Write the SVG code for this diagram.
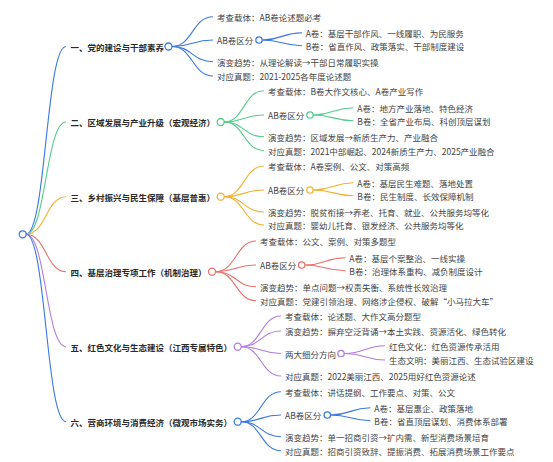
<svg xmlns="http://www.w3.org/2000/svg" width="553" height="462" viewBox="0 0 553 462">
<style>
text{font-family:"Noto Sans CJK SC","Liberation Sans",sans-serif;font-size:8.5px;dominant-baseline:central;fill:#444}
.l1{fill:#2a2a2a;font-weight:600}
path{fill:none;stroke-width:1.1}
circle{fill:#fff;stroke-width:1.3}
.b{stroke:#3a78e0}.g{stroke:#56cc8c}.o{stroke:#f2b230}.r{stroke:#e8726c}.p{stroke:#b07ddf}
</style>
<rect width="553" height="462" fill="#fff"/>
<g id="connectors">
<path class="b" d="M26,234.3C46,234.3 46,46.5 66,46.5"/>
<path class="g" d="M26,234.3C46,234.3 46,122 66,122"/>
<path class="o" d="M26,234.3C46,234.3 46,196.7 66,196.7"/>
<path class="r" d="M26,234.3C46,234.3 46,271.7 66,271.7"/>
<path class="p" d="M26,234.3C46,234.3 46,346.7 66,346.7"/>
<path class="b" d="M26,234.3C46,234.3 46,421.7 66,421.7"/>
<!-- branch 1 -->
<path class="b" d="M172,46.5C192.5,46.5 192.5,16.7 213,16.7"/>
<path class="b" d="M172,46.5C192.5,46.5 192.5,40 213,40"/>
<path class="b" d="M172,46.5C192.5,46.5 192.5,61.7 213,61.7"/>
<path class="b" d="M172,46.5C192.5,46.5 192.5,76 213,76"/>
<path class="b" d="M262.5,40C282,40 282,32.7 302,32.7"/>
<path class="b" d="M262.5,40C282,40 282,45.7 302,45.7"/>
<!-- branch 2 -->
<path class="g" d="M224.2,122C244,122 244,90.7 264,90.7"/>
<path class="g" d="M224.2,122C244,122 244,115 264,115"/>
<path class="g" d="M224.2,122C244,122 244,136.7 264,136.7"/>
<path class="g" d="M224.2,122C244,122 244,150.7 264,150.7"/>
<path class="g" d="M313.5,115C333.5,115 333.5,107.7 353.5,107.7"/>
<path class="g" d="M313.5,115C333.5,115 333.5,120.7 353.5,120.7"/>
<!-- branch 3 -->
<path class="o" d="M224.2,196.7C244,196.7 244,166 264,166"/>
<path class="o" d="M224.2,196.7C244,196.7 244,190 264,190"/>
<path class="o" d="M224.2,196.7C244,196.7 244,212 264,212"/>
<path class="o" d="M224.2,196.7C244,196.7 244,225 264,225"/>
<path class="o" d="M313.5,190C333.5,190 333.5,182.7 353.5,182.7"/>
<path class="o" d="M313.5,190C333.5,190 333.5,195.7 353.5,195.7"/>
<!-- branch 4 -->
<path class="r" d="M215.5,271.7C236,271.7 236,241 256,241"/>
<path class="r" d="M215.5,271.7C236,271.7 236,265 256,265"/>
<path class="r" d="M215.5,271.7C236,271.7 236,286.7 256,286.7"/>
<path class="r" d="M215.5,271.7C236,271.7 236,300.7 256,300.7"/>
<path class="r" d="M305.2,265C325,265 325,257.7 345.5,257.7"/>
<path class="r" d="M305.2,265C325,265 325,270.7 345.5,270.7"/>
<!-- branch 5 -->
<path class="p" d="M241.2,346.7C261,346.7 261,316 281,316"/>
<path class="p" d="M241.2,346.7C261,346.7 261,331 281,331"/>
<path class="p" d="M241.2,346.7C261,346.7 261,353.5 281,353.5"/>
<path class="p" d="M241.2,346.7C261,346.7 261,376 281,376"/>
<path class="p" d="M344.5,353.5C365,353.5 365,345.7 385,345.7"/>
<path class="p" d="M344.5,353.5C365,353.5 365,360 385,360"/>
<!-- branch 6 -->
<path class="b" d="M241.2,421.7C261,421.7 261,391.7 281,391.7"/>
<path class="b" d="M241.2,421.7C261,421.7 261,415 281,415"/>
<path class="b" d="M241.2,421.7C261,421.7 261,436.7 281,436.7"/>
<path class="b" d="M241.2,421.7C261,421.7 261,450.7 281,450.7"/>
<path class="b" d="M330.8,415C350.5,415 350.5,407.7 370.5,407.7"/>
<path class="b" d="M330.8,415C350.5,415 350.5,420.7 370.5,420.7"/>
</g>
<g id="root"><circle class="b" cx="22.7" cy="234.3" r="3.5"/></g>
<g id="n1">
<text class="l1" x="70.5" y="46.5">一、党的建设与干部素养</text>
<circle class="b" cx="168.5" cy="46.5" r="3.5"/>
</g>
<g id="n1-1"><text x="217" y="16.7">考查载体：AB卷论述题必考</text></g>
<g id="n1-2"><text x="217" y="40">AB卷区分</text><circle class="b" cx="259" cy="40" r="3.2"/></g>
<g id="n1-2a"><text x="305.7" y="32.7">A卷：基层干部作风、一线履职、为民服务</text></g>
<g id="n1-2b"><text x="305.7" y="45.7">B卷：省直作风、政策落实、干部制度建设</text></g>
<g id="n1-3"><text x="217" y="61.7">演变趋势：从理论解读→干部日常履职实操</text></g>
<g id="n1-4"><text x="217" y="76">对应真题：2021-2025各年度论述题</text></g>
<g id="n2">
<text class="l1" x="70.5" y="122">二、区域发展与产业升级（宏观经济）</text>
<circle class="g" cx="220.7" cy="122" r="3.5"/>
</g>
<g id="n2-1"><text x="268" y="90.7">考查载体：B卷大作文核心、A卷产业写作</text></g>
<g id="n2-2"><text x="268" y="115">AB卷区分</text><circle class="g" cx="310" cy="115" r="3.2"/></g>
<g id="n2-2a"><text x="357.3" y="107.7">A卷：地方产业落地、特色经济</text></g>
<g id="n2-2b"><text x="357.3" y="120.7">B卷：全省产业布局、科创顶层谋划</text></g>
<g id="n2-3"><text x="268" y="136.7">演变趋势：区域发展→新质生产力、产业融合</text></g>
<g id="n2-4"><text x="268" y="150.7">对应真题：2021中部崛起、2024新质生产力、2025产业融合</text></g>
<g id="n3">
<text class="l1" x="70.5" y="196.7">三、乡村振兴与民生保障（基层普惠）</text>
<circle class="o" cx="220.7" cy="196.7" r="3.5"/>
</g>
<g id="n3-1"><text x="268" y="166">考查载体：A卷案例、公文、对策高频</text></g>
<g id="n3-2"><text x="268" y="190">AB卷区分</text><circle class="o" cx="310" cy="190" r="3.2"/></g>
<g id="n3-2a"><text x="357.3" y="182.7">A卷：基层民生难题、落地处置</text></g>
<g id="n3-2b"><text x="357.3" y="195.7">B卷：民生制度、长效保障机制</text></g>
<g id="n3-3"><text x="268" y="212">演变趋势：脱贫衔接→养老、托育、就业、公共服务均等化</text></g>
<g id="n3-4"><text x="268" y="225">对应真题：婴幼儿托育、银发经济、公共服务均等化</text></g>
<g id="n4">
<text class="l1" x="70.5" y="271.7">四、基层治理专项工作（机制治理）</text>
<circle class="r" cx="212" cy="271.7" r="3.5"/>
</g>
<g id="n4-1"><text x="260" y="241">考查载体：公文、案例、对策多题型</text></g>
<g id="n4-2"><text x="260" y="265">AB卷区分</text><circle class="r" cx="301.7" cy="265" r="3.2"/></g>
<g id="n4-2a"><text x="349.3" y="257.7">A卷：基层个案整治、一线实操</text></g>
<g id="n4-2b"><text x="349.3" y="270.7">B卷：治理体系重构、减负制度设计</text></g>
<g id="n4-3"><text x="260" y="286.7">演变趋势：单点问题→权责失衡、系统性长效治理</text></g>
<g id="n4-4"><text x="260" y="300.7">对应真题：党建引领治理、网络涉企侵权、破解“小马拉大车”</text></g>
<g id="n5">
<text class="l1" x="70.5" y="346.7">五、红色文化与生态建设（江西专属特色）</text>
<circle class="p" cx="237.7" cy="346.7" r="3.5"/>
</g>
<g id="n5-1"><text x="285" y="316">考查载体：论述题、大作文高分题型</text></g>
<g id="n5-2"><text x="285" y="331">演变趋势：摒弃空泛背诵→本土实践、资源活化、绿色转化</text></g>
<g id="n5-3"><text x="285" y="353.5">两大细分方向</text><circle class="p" cx="341" cy="353.5" r="3.2"/></g>
<g id="n5-3a"><text x="389" y="345.7">红色文化：红色资源传承活用</text></g>
<g id="n5-3b"><text x="389" y="360">生态文明：美丽江西、生态试验区建设</text></g>
<g id="n5-4"><text x="285" y="376">对应真题：2022美丽江西、2025用好红色资源论述</text></g>
<g id="n6">
<text class="l1" x="70.5" y="421.7">六、营商环境与消费经济（微观市场实务）</text>
<circle class="b" cx="237.7" cy="421.7" r="3.5"/>
</g>
<g id="n6-1"><text x="285" y="391.7">考查载体：讲话提纲、工作要点、对策、公文</text></g>
<g id="n6-2"><text x="285" y="415">AB卷区分</text><circle class="b" cx="327.3" cy="415" r="3.2"/></g>
<g id="n6-2a"><text x="374.3" y="407.7">A卷：基层惠企、政策落地</text></g>
<g id="n6-2b"><text x="374.3" y="420.7">B卷：省直顶层谋划、消费体系部署</text></g>
<g id="n6-3"><text x="285" y="436.7">演变趋势：单一招商引资→扩内需、新型消费场景培育</text></g>
<g id="n6-4"><text x="285" y="450.7">对应真题：招商引资致辞、提振消费、拓展消费场景工作要点</text></g>
</svg>
